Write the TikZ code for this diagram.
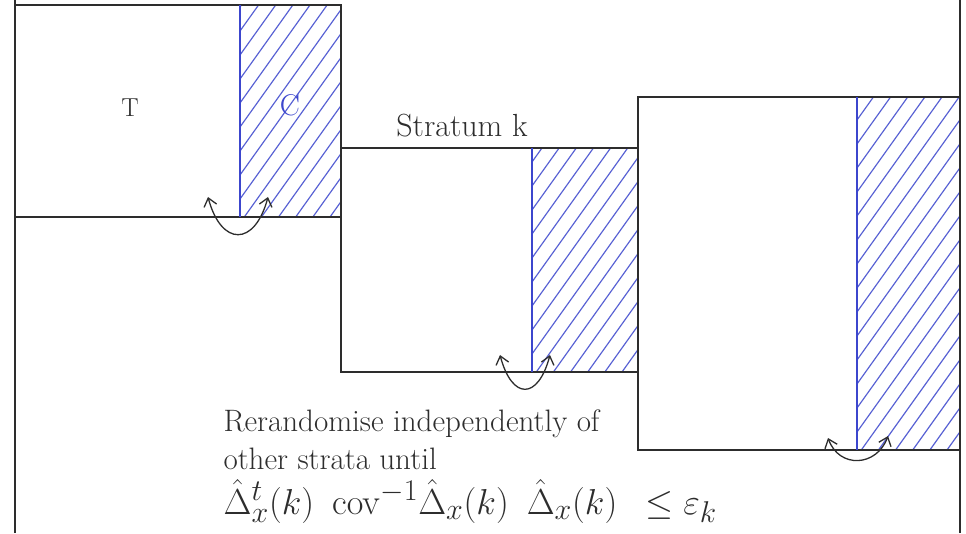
\documentclass[tikz,border=0pt]{standalone}
\usetikzlibrary{arrows.meta, positioning}
\usepackage{amsmath}
\usepackage{xcolor}
\definecolor{inkcol}{RGB}{45,45,45}
\definecolor{ctrlcol}{RGB}{60,70,205}
\tikzset{
  every node/.append style={align=center},
  frame/.style={inkcol, line width=1.4pt},
  divider/.style={ctrlcol, line width=1.1pt},
  hatch/.style={ctrlcol!85, line width=1.2pt},
  swaparrow/.style={{Straight Barb[length=8pt,width=13pt]}-{Straight Barb[length=8pt,width=13pt]},
                    inkcol, line width=1.3pt},
}

\begin{document}
\begin{tikzpicture}[x=1pt,y=1pt]
\useasboundingbox (0,0) rectangle (966,533);

% ── Three strata: box, T/C split, hatched control part ──────────────────────
\foreach \k/\xl/\xd/\xr/\yb/\yt in {
    1/15/240/341/316/528,
    2/341/532/638/161/385,
    3/638/857/960/83/436}
{
  \begin{scope}
    \clip (\xd,\yb) rectangle (\xr,\yt);
    \foreach \c in {-150,-126,...,360}
      \draw[hatch] (\xd,\yb+\c) -- ++(130,182);
  \end{scope}
  \draw[frame] (\xl,\yb) rectangle (\xr,\yt);
  \draw[divider] (\xd,\yb) -- (\xd,\yt);
}

% outer sides
\draw[frame] (15,0) -- (15,533);
\draw[frame] (960,0) -- (960,533);

% ── Labels ──────────────────────────────────────────────────────────────────
\node[font=\fontsize{26}{30}\selectfont, inkcol] (tlab) at (130,425) {T};
\node[font=\fontsize{30}{34}\selectfont, ctrlcol] (clab) at (290,428) {C};
\node[font=\fontsize{32}{36}\selectfont, inkcol] (stratum) at (462,407) {Stratum k};

% ── Swap arrows across the T/C split ────────────────────────────────────────
\coordinate (swapL1) at (208,336);
\coordinate (swapR1) at (268,336);
\coordinate (swapL2) at (500,178);
\coordinate (swapR2) at (550,178);
\coordinate (swapL3) at (828,95);
\coordinate (swapR3) at (888,97);
\draw[swaparrow] (swapL1) to[out=-75,in=-105,looseness=2.2] (swapR1);
\draw[swaparrow] (swapL2) to[out=-75,in=-105,looseness=2.4] (swapR2);
\draw[swaparrow] (swapL3) to[out=-70,in=-110,looseness=1.4] (swapR3);

% Rerandomisation note
\node[font=\fontsize{31}{38}\selectfont, inkcol, anchor=north west, align=left]
     (note) at (220,127) {Rerandomise independently of\\ other strata until};
\node[font=\fontsize{24.88}{28}\selectfont, inkcol, anchor=base west,
      scale=1.45, transform shape, inner sep=1pt]
     (cond) at (222,19)
     {$\hat\Delta^{t}_{x}(k)\enspace\mathrm{cov}^{-1}\hat\Delta_{x}(k)\enspace
       \hat\Delta_{x}(k)\enspace\le\varepsilon_k$};

\end{tikzpicture}
\end{document}
